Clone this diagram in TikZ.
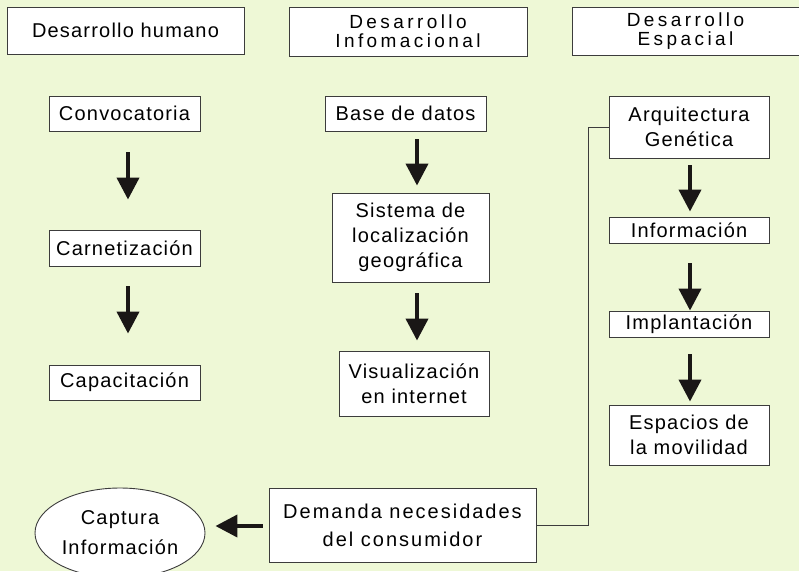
\documentclass[tikz,border=0pt]{standalone}
\usepackage{fontspec}
\setmainfont{Liberation Sans}
\newfontfamily\bodyfont[LetterSpace=6]{Liberation Sans}
\newfontfamily\demfont[LetterSpace=10]{Liberation Sans}
\newfontfamily\widefont[LetterSpace=18]{Liberation Sans}
\usetikzlibrary{arrows.meta,shapes.geometric}
\definecolor{bg}{RGB}{238,248,214}
\definecolor{edge}{RGB}{60,60,60}
\definecolor{arrowc}{RGB}{26,23,22}
\begin{document}
\begin{tikzpicture}[x=1pt,y=-1pt,
  box/.style={draw=edge, line width=0.9pt, fill=white, inner sep=0pt, align=center,
    font=\bodyfont\fontsize{20}{25}\selectfont},
  hbox/.style={box, font=\widefont\fontsize{19}{19}\selectfont},
  big/.style={draw=arrowc, line width=4pt, -{Triangle[width=22pt,length=22pt]}},
  link/.style={draw=edge, line width=0.9pt}]
\fill[bg] (0,0) rectangle (799,571);
\useasboundingbox (0,0) rectangle (799,571);

% headers
\node[box, minimum width=237pt, minimum height=47pt] (h1) at (125.5,30.5) {Desarrollo humano};
\node[hbox, minimum width=238pt, minimum height=49pt] (h2) at (408,31.5) {Desarrollo\\Infomacional};
\node[hbox, minimum width=227pt, minimum height=48pt] (h3) at (685.5,31) {Desarrollo\\Espacial};

% left column
\node[box, minimum width=151pt, minimum height=35pt] (conv) at (124.5,113.5) {Convocatoria};
\node[box, minimum width=151pt, minimum height=36pt] (carn) at (124.5,248) {Carnetización};
\node[box, minimum width=151pt, minimum height=35pt] (capa) at (124.5,382.5) {Capacitación};

% middle column
\node[box, minimum width=161pt, minimum height=35pt] (base) at (405.5,113.5) {Base de datos};
\node[box, minimum width=157pt, minimum height=89pt] (sist) at (410.5,237.5) {Sistema de\\localización\\geográfica};
\node[box, minimum width=150pt, minimum height=65pt] (visu) at (414,383.5) {Visualización\\en internet};

% right column
\node[box, minimum width=160pt, minimum height=62pt] (arq) at (689,127) {Arquitectura\\Genética};
\node[box, minimum width=160pt, minimum height=26pt] (info) at (689,230) {Información};
\node[box, minimum width=160pt, minimum height=26pt] (impl) at (689,324) {Implantación};
\node[box, minimum width=160pt, minimum height=60pt] (esp) at (689,435) {Espacios de\\la movilidad};

% bottom
\node[box, minimum width=267pt, minimum height=74pt,
  font=\demfont\fontsize{20}{28}\selectfont] (dem) at (402.5,525) {Demanda necesidades\\del consumidor};
\node[box, ellipse, minimum width=170pt, minimum height=90pt,
  font=\bodyfont\fontsize{20}{30}\selectfont] (ell) at (120,533) {Captura\\Información};

% arrows
\draw[big, shorten <=21pt, shorten >=30pt] ([xshift=3.5pt]conv.south) -- ([xshift=3.5pt]carn.north);
\draw[big, shorten <=20pt, shorten >=31pt] ([xshift=3.5pt]carn.south) -- ([xshift=3.5pt]capa.north);
\draw[big, shorten <=8pt, shorten >=7pt] ([xshift=11.5pt]base.south) -- ([xshift=6.5pt]sist.north);
\draw[big, shorten <=11pt, shorten >=10pt] ([xshift=6.5pt]sist.south) -- ([xshift=3pt]visu.north);
\draw[big, shorten <=7pt, shorten >=5pt] ([xshift=1pt]arq.south) -- ([xshift=1pt]info.north);
\draw[big, shorten <=20pt, shorten >=0pt] ([xshift=1pt]info.south) -- ([xshift=1pt]impl.north);
\draw[big, shorten <=17pt, shorten >=3pt] ([xshift=1pt]impl.south) -- ([xshift=1pt]esp.north);
\draw[big, shorten <=6pt, shorten >=10pt] ([yshift=-1pt]dem.west) -- ([yshift=-1pt]dem.west -| ell.east);

% connector
\draw[link] (arq.west) -- ++(-20,0) |- (dem.east);
\end{tikzpicture}
\end{document}
